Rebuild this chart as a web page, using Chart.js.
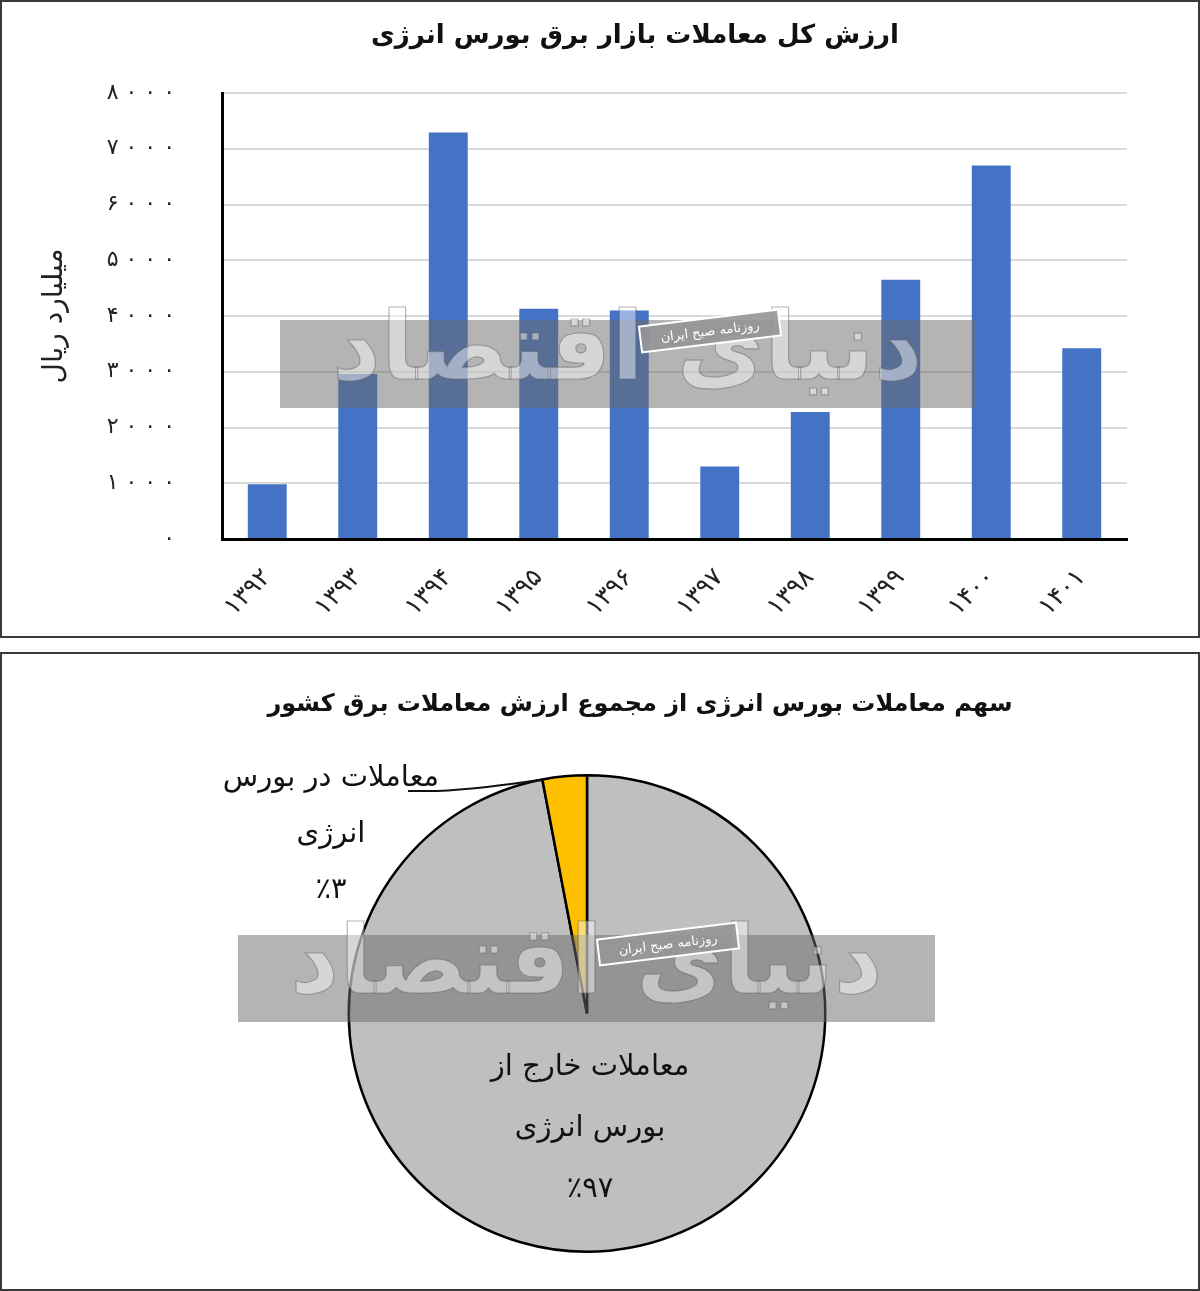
<!DOCTYPE html>
<html><head><meta charset="utf-8">
<script src="https://cdn.jsdelivr.net/npm/chart.js@4.4.0/dist/chart.umd.min.js"></script>
<style>
html,body{margin:0;padding:0;background:#fff;}
body{width:1200px;height:1291px;position:relative;overflow:hidden;}
.frame{position:absolute;left:0;width:1200px;box-sizing:border-box;border:2px solid #3a3a3a;}
canvas{position:absolute;left:0;}
</style></head><body>
<div class="frame" style="top:0;height:638px"></div>
<div class="frame" style="top:652px;height:639px"></div>
<canvas id="bar" width="1200" height="638" style="top:0"></canvas>
<canvas id="pie" width="1200" height="639" style="top:652px"></canvas>
<script>
// ---------- data ----------
const barTitle = 'ارزش کل معاملات بازار برق بورس انرژی';
const yAxisTitle = 'میلیارد ریال';
const years = ['۱۳۹۲','۱۳۹۳','۱۳۹۴','۱۳۹۵','۱۳۹۶','۱۳۹۷','۱۳۹۸','۱۳۹۹','۱۴۰۰','۱۴۰۱'];
const tradeValues = [980, 2960, 7290, 4130, 4100, 1300, 2280, 4650, 6700, 3420];
const yTickValues = [0, 1000, 2000, 3000, 4000, 5000, 6000, 7000, 8000];
const yTickLabels = ['۰','۱۰۰۰','۲۰۰۰','۳۰۰۰','۴۰۰۰','۵۰۰۰','۶۰۰۰','۷۰۰۰','۸۰۰۰'];

const pieTitle = 'سهم معاملات بورس انرژی از مجموع ارزش معاملات برق کشور';
const pieLabels = [['معاملات خارج از', 'بورس انرژی'], ['معاملات در بورس', 'انرژی']];
const pieValues = [97, 3];

const watermarkName = 'دنیای اقتصاد';
const watermarkTag = 'روزنامه صبح ایران';

// ---------- helpers ----------
const FONT = "'DejaVu Sans', sans-serif";
const faDigits = '۰۱۲۳۴۵۶۷۸۹';
const toFa = n => String(n).replace(/\d/g, d => faDigits[d]);
const spaced = s => s.split('').join(' ');

function drawWatermark(ctx, band, tag) {
  ctx.save();
  ctx.fillStyle = 'rgba(105,105,105,0.5)';
  ctx.fillRect(band.x, band.y, band.w, band.h);
  // big calligraphic name (approximation)
  ctx.font = `bold 100px ${FONT}`;
  const w = ctx.measureText(watermarkName).width;
  const size = 100 * (band.w * 0.85) / w;
  ctx.font = `bold ${size}px ${FONT}`;
  ctx.textAlign = 'center';
  ctx.textBaseline = 'middle';
  ctx.fillStyle = 'rgba(255,255,255,0.45)';
  ctx.strokeStyle = 'rgba(90,90,90,0.45)';
  ctx.lineWidth = 1.2;
  const cx = band.x + band.w / 2, cy = band.y + band.h / 2 - 10;
  ctx.fillText(watermarkName, cx, cy);
  ctx.strokeText(watermarkName, cx, cy);
  // small tag
  ctx.translate(tag.x, tag.y);
  ctx.rotate(-7 * Math.PI / 180);
  ctx.fillStyle = 'rgba(150,150,150,0.9)';
  ctx.fillRect(-70, -13, 140, 26);
  ctx.strokeStyle = '#fff';
  ctx.lineWidth = 2;
  ctx.strokeRect(-70, -13, 140, 26);
  ctx.fillStyle = '#fff';
  ctx.font = `13px ${FONT}`;
  ctx.fillText(watermarkTag, 0, 1);
  ctx.restore();
}

function titlePlugin(text, x, y, size) {
  return {
    id: 'customTitle',
    afterDraw(chart) {
      const ctx = chart.ctx;
      ctx.save();
      ctx.font = `bold ${size}px ${FONT}`;
      ctx.fillStyle = '#111';
      ctx.textAlign = 'center';
      ctx.textBaseline = 'middle';
      ctx.fillText(text, x, y);
      ctx.restore();
    }
  };
}

// ---------- bar chart ----------
new Chart(document.getElementById('bar'), {
  type: 'bar',
  data: {
    labels: years,
    datasets: [{
      data: tradeValues,
      backgroundColor: '#4472c4',
      borderWidth: 0,
      barPercentage: 0.43,
      categoryPercentage: 1
    }]
  },
  options: {
    responsive: false,
    animation: false,
    events: [],
    layout: { padding: { top: 93, right: 73, bottom: 0, left: 0 } },
    plugins: { legend: { display: false }, tooltip: { enabled: false }, title: { display: false } },
    scales: {
      x: {
        offset: true,
        grid: { display: false, drawTicks: false },
        border: { display: true, color: '#000', width: 3 },
        ticks: {
          minRotation: 45, maxRotation: 45, padding: 24,
          color: '#222', font: { family: FONT, size: 25 }
        },
        afterFit: s => { s.height = 99; }
      },
      y: {
        min: 0, max: 8000,
        afterBuildTicks: s => { s.ticks = yTickValues.map(v => ({ value: v })); },
        grid: {
          drawTicks: false, lineWidth: 2,
          color: c => (c.tick && c.tick.value === 0) ? 'rgba(0,0,0,0)' : '#d9d9d9'
        },
        border: { display: true, color: '#000', width: 3 },
        ticks: {
          padding: 47, color: '#222', font: { family: FONT, size: 22 },
          callback: v => { const i = yTickValues.indexOf(v); return i < 0 ? '' : spaced(yTickLabels[i]); }
        },
        title: {
          display: true, text: yAxisTitle, color: '#222',
          font: { family: FONT, size: 28 }, padding: { top: 38, bottom: 0 }
        },
        afterFit: s => { s.width = 222; }
      }
    }
  },
  plugins: [
    titlePlugin(barTitle, 635, 36, 26),
    { id: 'wm1', afterDraw(chart) { drawWatermark(chart.ctx, { x: 280, y: 320, w: 695, h: 88 }, { x: 710, y: 331 }); } }
  ]
});

// ---------- pie chart ----------
const pieLabelPlugin = {
  id: 'pieLabels',
  afterDatasetsDraw(chart) {
    const ctx = chart.ctx;
    const meta = chart.getDatasetMeta(0);
    const big = meta.data[0], small = meta.data[1];
    ctx.save();
    ctx.font = `29px ${FONT}`;
    ctx.fillStyle = '#111';
    ctx.textAlign = 'center';
    ctx.textBaseline = 'middle';
    // inside label of the large slice
    const inLines = pieLabels[0].concat(['٪' + toFa(pieValues[0])]);
    inLines.forEach((t, i) => ctx.fillText(t, big.x + 3, big.y + 54 + i * 61));
    // outside label of the small slice
    const outLines = pieLabels[1].concat(['٪' + toFa(pieValues[1])]);
    const ox = 331, oy = 126;
    outLines.forEach((t, i) => ctx.fillText(t, ox, oy + i * 56));
    // leader line to the slice
    const a = small.startAngle;
    const px = small.x + small.outerRadius * Math.cos(a);
    const py = small.y + small.outerRadius * Math.sin(a);
    ctx.strokeStyle = '#111';
    ctx.lineWidth = 2;
    ctx.beginPath();
    ctx.moveTo(408, 139);
    ctx.lineTo(437, 139);
    ctx.quadraticCurveTo(480, 137, px, py);
    ctx.stroke();
    ctx.restore();
  }
};

new Chart(document.getElementById('pie'), {
  type: 'pie',
  data: {
    labels: pieLabels.map(l => l.join(' ')),
    datasets: [{
      data: pieValues,
      backgroundColor: ['#bfbfbf', '#ffc000'],
      borderColor: '#000',
      borderWidth: 2.5
    }]
  },
  options: {
    responsive: false,
    animation: false,
    events: [],
    layout: { padding: { top: 122, right: 372, bottom: 38, left: 346 } },
    plugins: { legend: { display: false }, tooltip: { enabled: false }, title: { display: false } }
  },
  plugins: [
    pieLabelPlugin,
    titlePlugin(pieTitle, 640, 53, 24),
    { id: 'wm2', afterDraw(chart) { drawWatermark(chart.ctx, { x: 238, y: 283, w: 697, h: 87 }, { x: 668, y: 292 }); } }
  ]
});
</script>
</body></html>
